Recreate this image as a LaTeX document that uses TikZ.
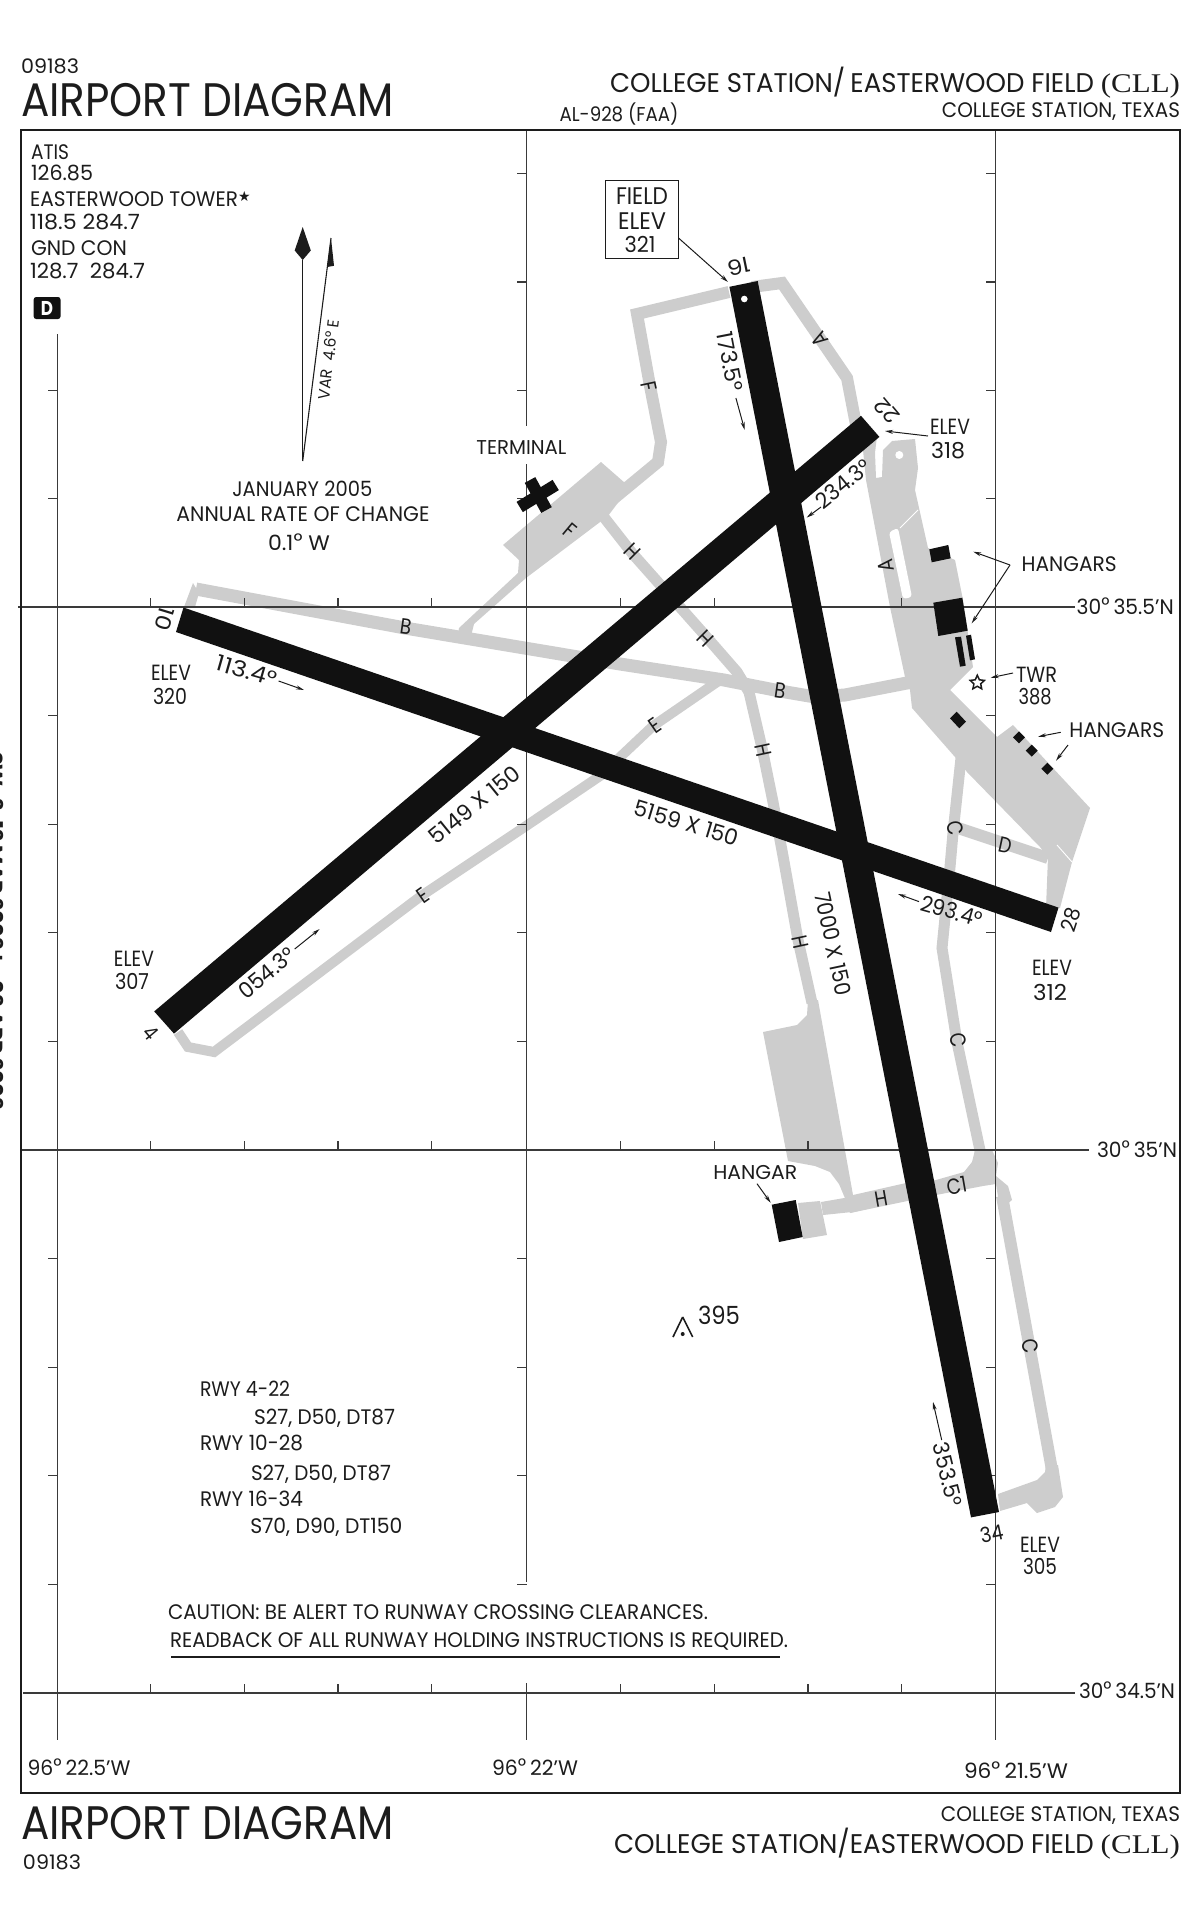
\documentclass[tikz,border=0pt]{standalone}
\usepackage{fontspec}
\usepackage{graphicx}
\usetikzlibrary{arrows.meta,shapes.geometric}
\setmainfont{Poppins}[FakeStretch=0.84]
\newfontfamily\cllfont{Liberation Serif}
\newfontfamily\symfont{DejaVu Sans}
\newcommand\fs[1]{\fontsize{#1}{#1}\selectfont}
\newcommand\fit[2]{\resizebox{#1pt}{\height}{#2}}
\newcommand\dg{\raisebox{2pt}{°}}
\definecolor{twygrey}{HTML}{CDCDCD}
\definecolor{rwyblack}{HTML}{111111}
\definecolor{ink}{HTML}{1C1C1C}
\definecolor{gridline}{HTML}{3A3A3A}
\tikzset{
  txt/.style={inner sep=0pt,outer sep=0pt,text=ink},
  lft/.style={txt,anchor=base west},
  rgt/.style={txt,anchor=base east},
  mid/.style={txt,anchor=base},
  ctr/.style={txt,anchor=center},
  twy/.style={draw=twygrey,line width=#1,line join=miter,miter limit=6},
  twy/.default=12pt,
  apron/.style={fill=twygrey,draw=none},
  rwy/.style={fill=rwyblack,draw=none},
  bldg/.style={fill=rwyblack,draw=none},
  gridl/.style={draw=gridline,line width=1.3pt},
  tick/.style={draw=gridline,line width=1.1pt},
  lead/.style={draw=ink,line width=1pt,-{Stealth[length=8pt,width=4pt]}},
  sl/.style={txt,anchor=center,font=\fs{22}},
}
\begin{document}
\begin{tikzpicture}[x=1pt,y=-1pt]
\useasboundingbox (0,0) rectangle (1200,1922);
% ---------- taxiways / aprons ----------
\draw[twy] (729,292) -- (637,314) -- (650,386) -- (661,442) -- (658,462) -- (612,500);
\draw[twy] (752,287) -- (782,283) -- (847,378) -- (857,430);
\draw[twy=13pt] (196,589) -- (405,628) -- (620,664) -- (724,680) -- (780,691) -- (815,697) -- (845,695) -- (912,682);
\fill[twygrey] (193,583) -- (184,607) -- (195,607) -- (199,593) -- cycle;
\draw[twy=10pt] (178,1032) -- (188,1047) -- (214,1052) -- (421,896) -- (526,826) -- (600,776) -- (653,726) -- (720,680);
\fill[white] (170,1036) -- (176,1044) -- (170,1050) -- cycle;
\fill[apron] (503,545) -- (601,462) -- (625,483) -- (620,500) -- (608,516) -- (526,578) -- (474,624) -- (470,640) -- (458,634) -- (459,628) -- (518,573) -- (519,560) -- cycle;
\draw[twy=11pt] (603,516) -- (632,553) -- (703,633) -- (737,672) -- (749,692) -- (762,748) -- (773,802) -- (783,856) -- (798,940) -- (812,1003);
\fill[apron] (818,1000) -- (808,1000) -- (807,1015) -- (797,1025) -- (763,1032) -- (788,1161) -- (815,1166) -- (830,1172) -- (839,1184) -- (847,1203) -- (850,1213) -- (908,1199) -- (906,1183) -- (853,1195) -- cycle;
\fill[apron] (853,1196) -- (936,1180) -- (964,1172) -- (972,1162) -- (975,1150) -- (992,1150) -- (998,1163) -- (996,1176) -- (1008,1186) -- (1012,1200) -- (1000,1210) -- (996,1184) -- (983,1186) -- (936,1195) -- (850,1213) -- cycle;
\draw[twy=12pt] (1002,1196) -- (1052,1470);
\fill[apron] (1046,1465) -- (1058,1465) -- (1063,1497) -- (1055,1507) -- (1037,1513) -- (1027,1503) -- (1000,1511) -- (998,1494) -- (1037,1480) -- (1045,1472) -- cycle;
\draw[twy=11pt] (961,758) -- (953,833) -- (950,867) -- (942,948) -- (957,1042) -- (981,1155);
\draw[twy=12pt] (958,828) -- (1048,858);
\fill[apron] (862,440) -- (866,480) -- (890,607) -- (905,677) -- (910,690) -- (912,708) -- (955,757) -- (967,772) -- (1040,847) -- (1048,857) -- (1046,908) -- (1060,908) -- (1072,862) -- (1090,808) -- (1013,725) -- (997,737) -- (950,690) -- (973,667) -- (963,600) -- (955,560) -- (928,548) -- (915,490) -- (918,468) -- (915,439) -- (892,441) -- (883,450) -- (882,477) -- (876,478) -- (875,453) -- (877,436) -- cycle;
\fill[apron] (821,1202) -- (850,1197) -- (852,1212) -- (823,1215) -- cycle;
\fill[apron] (798,1203) -- (820,1201) -- (827,1235) -- (803,1239) -- cycle;
% white details on the aprons
\fill[white] (899.3,455) circle (4);
\fill[white,rounded corners=3pt] (889,532) -- (898,528) -- (912,597) -- (903,599) -- cycle;
\draw[white,line width=.9pt] (900,528) -- (918,510);
\draw[white,line width=.9pt] (1057,845) -- (1072,862);
% ---------- grid ----------
\draw[gridl] (18,607) -- (1075,607);
\draw[gridl] (21,1150) -- (1089,1150);
\draw[gridl] (23,1693) -- (1075,1693);
\draw[gridl] (57.4,334) -- (57.4,1740);
\draw[gridl] (526.6,130) -- (526.6,426) (526.6,464) -- (526.6,1582) (526.6,1683) -- (526.6,1740);
\draw[gridl] (995.7,130) -- (995.7,1740);
\foreach \yy in {607,1150,1693}{
  \foreach \xx in {150.4,244.2,338,431.8,620.4,714.2,808,901.8}{
    \draw[tick] (\xx,\yy) -- (\xx,\yy-9);}
  \foreach \xx in {57.4,526.6,995.7}{
    \draw[tick] (\xx,\yy) -- (\xx,\yy-9);}
}
\foreach \yy in {173.6,282,390.4,498.6,715.6,824.2,932.8,1041.4,1258.6,1367.2,1475.8,1584.4}{
  \draw[tick] (526.6,\yy) -- (517,\yy);
  \draw[tick] (995.7,\yy) -- (986,\yy);
}
\foreach \yy in {390.4,498.6,607,715.6,824.2,932.8,1041.4,1150,1258.6,1367.2,1475.8,1584.4,1693}{
  \draw[tick] (57.4,\yy) -- (48,\yy);
}
\draw[draw=ink,line width=1.6pt] (21,130) rectangle (1180,1793);
% ---------- runways ----------
\fill[rwy] (729.4,286.8) -- (757.7,281) -- (999,1512) -- (971,1517.4) -- cycle;
\fill[rwy] (183.5,607.5) -- (176,632) -- (1051,932) -- (1058.5,907.6) -- cycle;
\fill[rwy] (154.2,1011.4) -- (174,1033.6) -- (879.4,436.9) -- (861,415.8) -- cycle;
\fill[white] (744.3,299) circle (3.3);
% ---------- buildings ----------
\fill[bldg] (929.3,549.3) -- (948.3,545) -- (950.7,558.3) -- (931.7,562.3) -- cycle;
\fill[bldg] (933.3,602.7) -- (962.3,597.7) -- (967.7,630.7) -- (938.3,636) -- cycle;
\fill[bldg] (955,637.3) -- (961,636.7) -- (965.7,665.7) -- (960,666.7) -- cycle;
\fill[bldg] (966,635.7) -- (971,634.7) -- (975,659.3) -- (970,660.3) -- cycle;
\fill[bldg] (950,718.3) -- (956.7,711.7) -- (966,721.7) -- (959.3,728.3) -- cycle;
\foreach \cx/\cy in {1019/737.3,1031.7/750.7,1047.3/768.7}{
  \fill[bldg] (\cx-6,\cy) -- (\cx,\cy-6) -- (\cx+6,\cy) -- (\cx,\cy+6) -- cycle;}
\fill[bldg] (771.7,1204.7) -- (795.7,1200) -- (802.7,1237) -- (779,1242) -- cycle;
\draw[rwyblack,line width=12pt] (519.7,507) -- (555.7,485);
\draw[rwyblack,line width=12pt] (530,480) -- (546.5,510);
\node[star,star points=5,star point ratio=2.1,draw=ink,line width=1.5pt,fill=white,minimum size=15pt,inner sep=0pt] (twrstar) at (977.3,682.7) {};
% ---------- magnetic arrows ----------
\draw[ink,line width=1.1pt] (302.7,461) -- (302.7,260);
\fill[ink] (302.7,227) -- (310.8,250.5) -- (302.7,260) -- (294.7,250.5) -- cycle;
\draw[ink,line width=1.1pt] (302.7,461) -- (331,238);
\fill[ink] (331,238) -- (334,265.8) -- (327.2,267) -- cycle;
% ---------- leaders ----------
\coordinate (feTail) at (678.5,238); \coordinate (feHead) at (728,282);
\draw[lead] (feTail) -- (feHead);
\draw[lead] (928,436) -- (885,431);
\draw[lead] (735.9,398) -- (744.7,430);
\draw[lead] (821,507) -- (806.7,517.6);
\draw[lead] (278.6,681) -- (304,690);
\draw[lead] (294.7,949) -- (319.6,929);
\draw[lead] (919,901.6) -- (898,894);
\draw[lead] (941.7,1440) -- (933,1402);
\draw[lead] (1010,565) -- (973.3,551.7);
\draw[lead] (1010,565) -- (971.7,623.3);
\draw[lead] (1013,673) -- (990.7,677.7);
\draw[lead] (1060.7,732.3) -- (1038,736.7);
\draw[lead] (1068,745) -- (1056,760.7);
\draw[lead] (757,1183.7) -- (770.7,1202.8);
\draw[ink,line width=1.6pt] (682.7,1317) -- (673,1337);
\draw[ink,line width=1.6pt] (682.7,1317) -- (692.7,1337);
\fill[ink] (682.7,1334) circle (2);
\draw[ink,line width=2pt] (171,1657) -- (780,1657);
% ---------- header ----------
\node[lft,font=\fs{20}] (idtop) at (21,73.7) {\fit{58}{09183}};
\node[lft,font=\fs{47}] (titletop) at (21,116.5) {\fit{373}{AIRPORT DIAGRAM}};
\node[rgt,font=\fs{27}] (nametop) at (1180,92.8) {\fit{570}{COLLEGE STATION/\,EASTERWOOD FIELD {\cllfont(CLL)}}};
\node[rgt,font=\fs{21}] (citytop) at (1180,117.7) {\fit{238}{COLLEGE STATION, TEXAS}};
\node[lft,font=\fs{20}] (alnum) at (559.5,121) {\fit{119}{AL-928 (FAA)}};
% ---------- comm ----------
\node[lft,font=\fs{21}] (atis) at (31,159.8) {\fit{38}{ATIS}};
\node[lft,font=\fs{21}] (atisf) at (31,180.8) {\fit{62}{126.85}};
\node[lft,font=\fs{21}] (twr) at (30,206.5) {\fit{208}{EASTERWOOD TOWER}{\symfont\fs{14}\raisebox{5pt}{★}}};
\node[lft,font=\fs{21}] (twrf) at (30,229.4) {\fit{110}{118.5 284.7}};
\node[lft,font=\fs{21}] (gnd) at (31,255) {\fit{96}{GND CON}};
\node[lft,font=\fs{21}] (gndf) at (30,278) {\fit{115}{128.7\ \ 284.7}};
\node[fill=rwyblack,rounded corners=2.5pt,text=white,font=\bfseries\fs{20},minimum width=26.8pt,minimum height=22pt,inner sep=0pt] (dbox) at (47.1,308) {D};
% ---------- variation ----------
\node[ctr,font=\fs{16},rotate=83] (var) at (328.4,359.6) {\fit{80}{VAR\ \ 4.6° E}};
\node[mid,font=\fs{21}] (jan) at (302.3,496) {\fit{140}{JANUARY 2005}};
\node[mid,font=\fs{21}] (rate) at (303,521.4) {\fit{253}{ANNUAL RATE OF CHANGE}};
\node[mid,font=\fs{21}] (chg) at (299,550) {\fit{62}{0.1\dg\ W}};
\node[mid,font=\fs{20}] (term) at (521.4,454.5) {\fit{90}{TERMINAL}};
% ---------- field elev ----------
\node[draw=ink,line width=1.2pt,minimum width=72.8pt,minimum height=78pt,inner sep=0pt] (febox) at (642.1,219.8) {};
\node[mid,font=\fs{24}] (fe1) at (642,204.6) {\fit{52}{FIELD}};
\node[mid,font=\fs{24}] (fe2) at (642,229.4) {\fit{48}{ELEV}};
\node[mid,font=\fs{22}] (fe3) at (640,252.4) {\fit{31}{321}};
% ---------- runway labels ----------
\node[ctr,font=\fs{21},rotate=191.5] (r16) at (739,266.6) {\fit{23}{16}};
\node[ctr,font=\fs{21},rotate=130] (r22) at (887,411) {\fit{26}{22}};
\node[ctr,font=\fs{21},rotate=-107] (r10) at (164.6,619) {\fit{23}{10}};
\node[ctr,font=\fs{21},rotate=-50] (r4) at (151,1032.5) {4};
\node[ctr,font=\fs{21},rotate=72] (r28) at (1071,920) {\fit{24}{28}};
\node[ctr,font=\fs{21},rotate=11.5] (r34) at (991.7,1534) {\fit{23}{34}};
\node[ctr,font=\fs{22},rotate=-79] (h173) at (730,361.5) {\fit{61}{173.5°}};
\node[ctr,font=\fs{22},rotate=39] (h234) at (843,484) {\fit{64}{234.3°}};
\node[ctr,font=\fs{22},rotate=-16] (h113) at (246.8,670.8) {\fit{62}{113.4°}};
\node[ctr,font=\fs{22},rotate=39] (h054) at (266.7,973) {\fit{66}{054.3°}};
\node[ctr,font=\fs{22},rotate=-16] (h293) at (951.7,911) {\fit{63}{293.4°}};
\node[ctr,font=\fs{22},rotate=-76] (h353) at (948,1474.5) {\fit{65}{353.5°}};
\node[ctr,font=\fs{22},rotate=39] (d5149) at (474.5,804.7) {\fit{110}{5149 X 150}};
\node[ctr,font=\fs{22},rotate=-17] (d5159) at (686.7,823) {\fit{108}{5159 X 150}};
\node[ctr,font=\fs{22},rotate=-78] (d7000) at (833.3,943.7) {\fit{105}{7000 X 150}};
% ---------- elevations ----------
\node[mid,font=\fs{22}] (e1) at (171,680.4) {\fit{40}{ELEV}};
\node[mid,font=\fs{22}] (e1v) at (170,704) {\fit{34}{320}};
\node[mid,font=\fs{22}] (e2) at (134,966) {\fit{40}{ELEV}};
\node[mid,font=\fs{22}] (e2v) at (132,989.6) {\fit{34}{307}};
\node[mid,font=\fs{22}] (e3) at (950,434) {\fit{40}{ELEV}};
\node[mid,font=\fs{22}] (e3v) at (948,458) {\fit{34}{318}};
\node[mid,font=\fs{22}] (e4) at (1052,975) {\fit{40}{ELEV}};
\node[mid,font=\fs{22}] (e4v) at (1050,1000) {\fit{34}{312}};
\node[mid,font=\fs{22}] (e5) at (1040,1552) {\fit{40}{ELEV}};
\node[mid,font=\fs{22}] (e5v) at (1040,1574) {\fit{34}{305}};
\node[lft,font=\fs{21}] (hg1) at (1021.7,571.7) {\fit{95}{HANGARS}};
\node[lft,font=\fs{21}] (hg2) at (1069.3,737.3) {\fit{95}{HANGARS}};
\node[lft,font=\fs{20}] (hg3) at (713.3,1179) {\fit{84}{HANGAR}};
\node[lft,font=\fs{22}] (twl) at (1016,682.7) {\fit{41}{TWR}};
\node[mid,font=\fs{22}] (twv) at (1035,704) {\fit{33}{388}};
\node[lft,font=\fs{25}] (spot) at (698,1324.5) {\fit{42}{395}};
% ---------- taxiway letters ----------
\node[sl,rotate=123] (ta1) at (820,339) {A};
\node[sl,rotate=100] (ta2) at (886,565.7) {A};
\node[sl,rotate=-78] (tf1) at (649,386) {F};
\node[sl,rotate=-40] (tf2) at (570,531) {F};
\node[sl,rotate=-45] (th1) at (632,552) {H};
\node[sl,rotate=-45] (th2) at (705,639) {H};
\node[sl,rotate=-78] (th3) at (763,750) {H};
\node[sl,rotate=-78] (th4) at (800,942) {H};
\node[sl,rotate=10] (th5) at (881,1199) {H};
\node[sl,rotate=10] (tc1) at (956.7,1185.6) {C1};
\node[sl,rotate=-8] (tb1) at (405.7,627) {B};
\node[sl,rotate=-8] (tb2) at (780,691) {B};
\node[sl,rotate=35] (te1) at (423,895.8) {E};
\node[sl,rotate=35] (te2) at (655,725.5) {E};
\node[sl,rotate=-80] (tc2) at (955,828) {C};
\node[sl,rotate=-80] (tc3) at (958,1040) {C};
\node[sl,rotate=-80] (tc4) at (1030,1346) {C};
\node[sl,rotate=-12] (td) at (1005,845) {D};
% ---------- notes ----------
\node[lft,font=\fs{21}] (n1) at (200,1396.7) {\fit{90}{RWY 4-22}};
\node[lft,font=\fs{21}] (n2) at (254,1424) {\fit{141}{S27, D50, DT87}};
\node[lft,font=\fs{21}] (n3) at (200,1450.7) {\fit{103}{RWY 10-28}};
\node[lft,font=\fs{21}] (n4) at (251,1480) {\fit{140}{S27, D50, DT87}};
\node[lft,font=\fs{21}] (n5) at (200,1506) {\fit{103}{RWY 16-34}};
\node[lft,font=\fs{21}] (n6) at (250.4,1533) {\fit{152}{S70, D90, DT150}};
\node[lft,font=\fs{21}] (c1) at (168,1619) {\fit{540}{CAUTION: BE ALERT TO RUNWAY CROSSING CLEARANCES.}};
\node[lft,font=\fs{21}] (c2) at (170,1647) {\fit{618}{READBACK OF ALL RUNWAY HOLDING INSTRUCTIONS IS REQUIRED.}};
% ---------- grid labels ----------
\node[lft,font=\fs{21}] (la1) at (1076.7,614) {\fit{97}{30\dg\,35.5'N}};
\node[lft,font=\fs{21}] (la2) at (1097,1157) {\fit{80}{30\dg\,35'N}};
\node[lft,font=\fs{21}] (la3) at (1079,1698) {\fit{96}{30\dg\,34.5'N}};
\node[lft,font=\fs{21}] (lo1) at (27.5,1775) {\fit{103}{96\dg\,22.5'W}};
\node[lft,font=\fs{21}] (lo2) at (492,1775) {\fit{86}{96\dg\,22'W}};
\node[lft,font=\fs{21}] (lo3) at (964,1778) {\fit{104}{96\dg\,21.5'W}};
% ---------- footer ----------
\node[lft,font=\fs{47}] (titlebot) at (21,1839) {\fit{373}{AIRPORT DIAGRAM}};
\node[rgt,font=\fs{21}] (citybot) at (1180,1821.7) {\fit{239}{COLLEGE STATION, TEXAS}};
\node[rgt,font=\fs{27}] (namebot) at (1180,1853) {\fit{566}{COLLEGE STATION/EASTERWOOD FIELD {\cllfont(CLL)}}};
\node[lft,font=\fs{20}] (idbot) at (23,1869) {\fit{58}{09183}};
% ---------- cropped margin text ----------
\node[txt,font=\bfseries\fs{19},rotate=-90,anchor=base] (margin) at (-11,931) {\fit{358}{SW-3, 12 MAR 2009 to 09 APR 2009}};
\end{tikzpicture}
\end{document}
